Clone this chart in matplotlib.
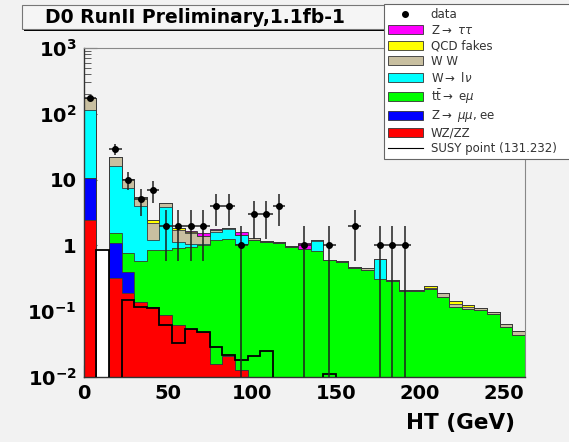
import numpy as np
import matplotlib
matplotlib.use("Agg")
import matplotlib.pyplot as plt
from matplotlib.patches import Rectangle, Patch
from matplotlib.lines import Line2D

plt.rcParams['font.family'] = ['DejaVu Sans']
plt.rcParams['mathtext.fontset'] = 'dejavusans'

# ---------------- data ----------------
bin_width = 7.5
n_bins = 35
edges = np.arange(n_bins + 1) * bin_width
centers = edges[:-1] + bin_width / 2

labels = ["WZ/ZZ", r"Z$\rightarrow$ $\mu\mu$, ee", r"t$\bar{\rm t}$$\rightarrow$ e$\mu$",
          r"W$\rightarrow$ l$\nu$", "W W", "QCD fakes", r"Z$\rightarrow$ $\tau\tau$"]
colors = ["#ff0000", "#0000ff", "#00ff00", "#00ffff", "#c8bfa0", "#ffff00", "#ff00ff"]

wzzz = [2.43, 0, 0.32, 0.19, 0.138, 0.117, 0.0875, 0.062, 0.053, 0.048, 0.016, 0.021, 0.0128,
        0, 0, 0, 0, 0, 0, 0, 0, 0, 0, 0, 0, 0, 0, 0, 0, 0, 0, 0, 0, 0, 0]
zll = [8.2, 0, 0.77, 0.21, 0, 0, 0, 0, 0, 0, 0, 0, 0,
       0, 0, 0, 0, 0, 0, 0, 0, 0, 0, 0, 0, 0, 0, 0, 0, 0, 0, 0, 0, 0, 0]
ttbar = [0, 0, 0.45, 0.375, 0.44, 0.73, 0.76, 0.84, 0.90, 0.95, 1.18, 1.23, 1.04,
         1.22, 1.13, 1.09, 0.93, 0.87, 0.82, 0.59, 0.55, 0.455, 0.43, 0.31, 0.285, 0.20,
         0.20, 0.215, 0.166, 0.117, 0.108, 0.104, 0.092, 0.057, 0.044]
wlnu = [103, 0, 14.6, 6.6, 3.4, 0.36, 3.0, 0.24, 0.10, 0.05, 0.40, 0.50, 0.39,
        0, 0, 0, 0, 0, 0.33, 0, 0, 0, 0, 0.32, 0, 0, 0, 0, 0, 0, 0, 0, 0, 0, 0]
ww = [60, 0, 6.2, 2.7, 1.4, 1.0, 0.63, 0.59, 0.50, 0.34, 0.10, 0.07, 0,
      0.06, 0.05, 0.04, 0.04, 0.02, 0.04, 0.02, 0.02, 0.02, 0.02, 0, 0.015, 0.01,
      0.01, 0.012, 0.025, 0.012, 0.006, 0.007, 0.006, 0.008, 0.006]
qcd = [0, 0, 0, 0, 0, 0.22, 0, 0.09, 0.05, 0, 0, 0, 0,
       0, 0, 0, 0, 0, 0, 0, 0, 0, 0, 0, 0, 0, 0, 0.013, 0, 0.015, 0.01, 0, 0, 0, 0]
ztt = [0, 0, 0, 0, 0, 0, 0, 0, 0.07, 0.14, 0.08, 0, 0.17,
       0, 0, 0, 0, 0.2, 0, 0, 0, 0, 0, 0, 0, 0, 0, 0, 0, 0, 0, 0, 0, 0, 0]

susy = [0, 0.85, 0, 0.15, 0.117, 0.111, 0.062, 0.0325, 0.053, 0.048, 0.029, 0.0216, 0.018,
        0.021, 0.025, 0, 0, 0, 0, 0.011, 0, 0, 0, 0, 0, 0, 0, 0, 0, 0, 0, 0, 0, 0, 0]

data = [175, 0, 29, 10, 5, 7, 2, 2, 2, 2, 4, 4, 1, 3, 3, 4, 0, 1, 0, 1, 0, 2, 0, 1, 1, 1,
        0, 0, 0, 0, 0, 0, 0, 0, 0]

x_ticks = [0, 50, 100, 150, 200, 250]
y_ticks = [1e-2, 1e-1, 1, 10, 1e2, 1e3]
y_tick_labels = [r"$\mathbf{10^{-2}}$", r"$\mathbf{10^{-1}}$", "1", "10",
                 r"$\mathbf{10^{2}}$", r"$\mathbf{10^{3}}$"]

# ---------------- figure ----------------
W, H = 569, 442
bg = "#f2f2f2"
fig = plt.figure(figsize=(W / 100, H / 100), dpi=100, facecolor=bg)
ax = fig.add_axes([83.8 / W, 1 - 377 / H, 441 / W, 329 / H])
ax.set_facecolor(bg)
ax.set_yscale("log")
ax.set_xlim(edges[0], edges[-1])
ax.set_ylim(1e-2, 1e3)

floor = 1e-5
susy_arr = np.array(susy)
susy_plot = np.where(susy_arr > 0, susy_arr, floor)
# SUSY histogram white fill underneath the stack
ax.stairs(susy_plot, edges, baseline=floor, fill=True, color="white", zorder=1.8)

stack = np.array([wzzz, zll, ttbar, wlnu, ww, qcd, ztt], dtype=float)
cum = np.cumsum(stack, axis=0)
for i in range(len(stack) - 1, -1, -1):
    vals = np.where(cum[i] > 0, cum[i], floor)
    ax.stairs(vals, edges, baseline=floor, fill=True, color=colors[i], zorder=2)
for i in range(len(stack)):
    vals = np.where(cum[i] > 0, cum[i], floor)
    ax.stairs(vals, edges, baseline=floor, fill=False, color="#3a3a3a", lw=0.6, zorder=3)

ax.stairs(susy_plot, edges, baseline=floor, fill=False, color="black", lw=1.3, zorder=4)

d = np.array(data, dtype=float)
m = d > 0
err = np.sqrt(d[m])
lo = d[m] - np.maximum(d[m] - err, 1e-4)
ax.errorbar(centers[m], d[m], yerr=[lo, err], xerr=bin_width / 2, fmt="o", ms=4,
            color="black", ecolor="#202020", elinewidth=1.1, capsize=0, zorder=5)

ax.set_axisbelow(True)
ax.set_xticks(x_ticks)
ax.set_xticklabels([str(t) for t in x_ticks], fontsize=14, fontweight="bold")
ax.set_yticks(y_ticks)
ax.set_yticklabels(y_tick_labels, fontsize=14, fontweight="bold")
ax.tick_params(axis="both", which="major", direction="in", length=9, width=0.8, color="#444")
ax.tick_params(axis="y", which="minor", direction="in", length=5, width=0.6, color="#444")
ax.tick_params(axis="x", pad=5)
ax.tick_params(axis="y", pad=5)
ax.yaxis.set_minor_formatter(plt.NullFormatter())
for s in ["left", "bottom"]:
    ax.spines[s].set_color("#333")
    ax.spines[s].set_linewidth(1.0)
for s in ["top", "right"]:
    ax.spines[s].set_color("#888")
    ax.spines[s].set_linewidth(0.8)

fig.text(515 / W, 1 - 423 / H, "HT (GeV)", ha="right", va="center", fontsize=15.5,
         fontweight="bold")

# title box
fig.patches.append(Rectangle((24 / W, 1 - 31 / H), 380 / W, 3 / H, transform=fig.transFigure,
                             facecolor="black", edgecolor="none", zorder=1))
fig.patches.append(Rectangle((21.7 / W, 1 - 29 / H), 380 / W, 24 / H, transform=fig.transFigure,
                             facecolor="#f5f5f5", edgecolor="#777", lw=0.8, zorder=2))
fig.text(45 / W, 1 - 17.5 / H, "D0 RunII Preliminary,1.1fb-1", ha="left", va="center",
         fontsize=13.5, fontweight="bold", zorder=3)

# legend
handles = [Line2D([], [], ls="none", marker="o", ms=4, color="black")]
leg_labels = ["data"]
for i in range(len(stack) - 1, -1, -1):
    handles.append(Patch(facecolor=colors[i], edgecolor="#333", lw=0.6))
    leg_labels.append(labels[i])
handles.append(Line2D([], [], color="black", lw=0.8))
leg_labels.append("SUSY point (131.232)")

fig.patches.append(Rectangle((388 / W, 1 - 160 / H), 220 / W, 4 / H, transform=fig.transFigure,
                             facecolor="black", edgecolor="none", zorder=1))
leg = fig.legend(handles, leg_labels, loc="upper left",
                 bbox_to_anchor=(383.5 / W, 1 - 4 / H, 220 / W, 0), mode="expand",
                 fontsize=8.5, frameon=True, fancybox=False, framealpha=1, facecolor="white",
                 edgecolor="#666", handlelength=3.0, handleheight=0.8, handletextpad=0.65,
                 labelspacing=0.22, borderpad=0.35, borderaxespad=0)
leg.get_frame().set_linewidth(0.8)
for t in leg.get_texts():
    t.set_color("#333")

fig.savefig("out.png", dpi=100, facecolor=bg)
